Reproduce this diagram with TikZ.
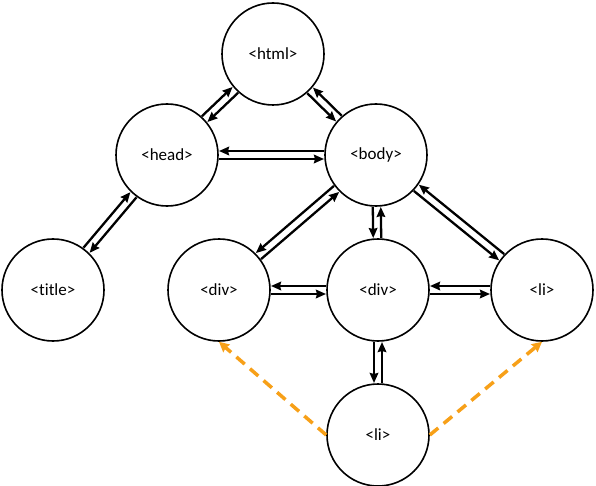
\documentclass[tikz,border=0pt]{standalone}
\usepackage{fontspec}
\setmainfont{Carlito}[Ligatures=NoCommon]
\usetikzlibrary{arrows.meta,calc}
\definecolor{hintorange}{RGB}{247,160,24}
\tikzset{
  tag/.style={draw, circle, line width=1.6pt, minimum size=102pt, inner sep=0pt, font=\fontsize{17}{19}\selectfont},
  link/.style={line width=2.3pt, -{Stealth[length=10pt,width=8.5pt,inset=1pt]}},
  hint/.style={draw=hintorange, line width=3.5pt, dash pattern=on 11pt off 7pt, -{Stealth[length=10pt,width=10pt,inset=1pt]}}
}

\begin{document}
\begin{tikzpicture}[x=1pt, y=-1pt]
  \useasboundingbox (0,0) rectangle (596,486);
  % tags of the page
  \node[tag] (html)  at (273,54)  {<html>};
  \node[tag] (head)  at (167,155) {<head>};
  \node[tag] (body)  at (376,155) {<body>};
  \node[tag] (title) at (53,290)  {<title>};
  \node[tag] (divl)  at (219,290) {<div>};
  \node[tag] (divm)  at (378,290) {<div>};
  \node[tag] (lir)   at (542,290) {<li>};
  \node[tag] (lib)   at (378,435) {<li>};
  % parent/child links, one line each way
  \foreach \a/\b/\s in {head/html/90, html/head/90, head/title/90, title/head/90,
      html/body/-90, body/html/-90, head/body/-90, body/head/-90,
      body/divl/-90, divl/body/-90, body/divm/-90, divm/body/-90,
      body/lir/-90, lir/body/-90, divl/divm/-90, divm/divl/-90,
      divm/lir/-90, lir/divm/-90, divm/lib/-90, lib/divm/-90}
    \draw[link] ($(\a)!52pt!(\b)!4pt!\s:(\b)$) -- ($(\b)!52pt!(\a)!4pt!\s:(\b)$);
  % sibling hints
  \draw[hint] (lib.west) -- (divl.south);
  \draw[hint] (lib.east) -- (lir.south);
\end{tikzpicture}
\end{document}
